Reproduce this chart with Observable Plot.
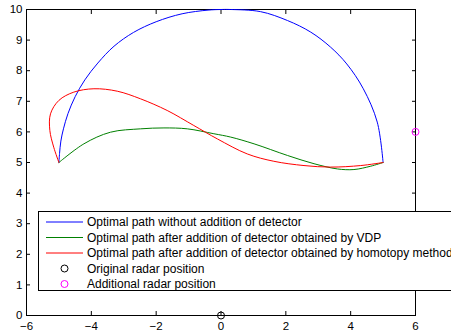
<!DOCTYPE html>
<html><head><meta charset="utf-8">
<script src="https://cdn.jsdelivr.net/npm/d3@7"></script>
<script src="https://cdn.jsdelivr.net/npm/@observablehq/plot@0.6"></script>
<style>
body{margin:0;background:#fff;font-family:"Liberation Sans",Arial,sans-serif;}
#wrap{position:relative;width:451px;height:334px;overflow:hidden;}
#legend{position:absolute;left:38px;top:211px;width:440px;height:80px;border:1px solid #000;background:#fff;box-sizing:border-box;}
</style>
</head><body>
<div id="wrap"></div>
<script>
const blueX = [-5, -4.98, -4.94, -4.86, -4.72, -4.5, -4.2, -3.8, -3.3, -2.7, -2.0, -1.2, -0.4, 0, 0.3, 1.22, 2.05, 2.77, 3.38, 3.88, 4.39, 4.82, 5];
const blueY = [5, 5.3, 5.7, 6.1, 6.6, 7.15, 7.7, 8.25, 8.8, 9.25, 9.6, 9.86, 9.98, 10, 10, 9.93, 9.64, 9.26, 8.77, 8.22, 7.41, 6.32, 5];
const greenX = [-5, -4.23, -3.41, -2.48, -1.76, -1.04, -0.22, 0.3, 1.02, 2.05, 2.87, 3.59, 4.1, 4.62, 5];
const greenY = [5, 5.61, 5.99, 6.10, 6.13, 6.10, 5.94, 5.83, 5.61, 5.23, 4.96, 4.79, 4.77, 4.88, 5];
const redX = [-5, -5.16, -5.28, -5.26, -5.0, -4.54, -3.92, -3.2, -2.48, -1.66, -0.84, -0.11, 0.81, 1.63, 2.56, 3.38, 4.31, 5];
const redY = [5, 5.5, 6.05, 6.59, 7.03, 7.3, 7.41, 7.33, 7.08, 6.70, 6.21, 5.77, 5.28, 5.04, 4.90, 4.85, 4.90, 5];
const radarOriginal = [{x: 0, y: 0}];
const radarAdditional = [{x: 6, y: 6}];
const xTicks = [-6, -4, -2, 0, 2, 4, 6];
const yTicks = [0, 1, 2, 3, 4, 5, 6, 7, 8, 9, 10];
const legendItems = [
  {label: "Optimal path without addition of detector", color: "#0000ff", type: "line"},
  {label: "Optimal path after addition of detector obtained by VDP", color: "#008000", type: "line"},
  {label: "Optimal path after addition of detector obtained by homotopy method", color: "#ff0000", type: "line"},
  {label: "Original radar position", color: "#000000", type: "dot"},
  {label: "Additional radar position", color: "#ff00ff", type: "dot"}
];

const toPts = (xs, ys) => xs.map((x, i) => ({x, y: ys[i]}));

const chart = Plot.plot({
  width: 451, height: 334,
  marginLeft: 26, marginRight: 36, marginTop: 9, marginBottom: 19,
  style: {fontFamily: "Liberation Sans, Arial, sans-serif", fontSize: "11.5px", color: "#000", background: "#fff"},
  x: {domain: [-6, 6]},
  y: {domain: [0, 10]},
  marks: [
    Plot.frame({stroke: "#000", strokeWidth: 1}),
    Plot.axisX({ticks: xTicks, tickSize: -4, tickPadding: 10, label: null, fontSize: 11.5}),
    Plot.axisX({ticks: xTicks, anchor: "top", tickSize: -4, tickFormat: () => "", label: null}),
    Plot.axisY({ticks: yTicks, tickSize: -4, tickPadding: 8, label: null, fontSize: 11.5}),
    Plot.axisY({ticks: yTicks, anchor: "right", tickSize: -4, tickFormat: () => "", label: null}),
    Plot.line(toPts(blueX, blueY), {x: "x", y: "y", stroke: "#0000ff", strokeWidth: 1, curve: "catmull-rom"}),
    Plot.line(toPts(greenX, greenY), {x: "x", y: "y", stroke: "#008000", strokeWidth: 1, curve: "catmull-rom"}),
    Plot.line(toPts(redX, redY), {x: "x", y: "y", stroke: "#ff0000", strokeWidth: 1, curve: "catmull-rom"}),
    Plot.dot(radarOriginal, {x: "x", y: "y", r: 3.5, stroke: "#000", strokeWidth: 1}),
    Plot.dot(radarAdditional, {x: "x", y: "y", r: 3.5, stroke: "#ff00ff", strokeWidth: 1})
  ]
});
const wrap = document.getElementById("wrap");
wrap.appendChild(chart);

const leg = document.createElement("div");
leg.id = "legend";
wrap.appendChild(leg);
const svg = d3.select(leg).append("svg").attr("width", 440).attr("height", 80);
legendItems.forEach((d, i) => {
  const y = 10 + i * 15.5;
  if (d.type === "line") {
    svg.append("line").attr("x1", 7).attr("x2", 44).attr("y1", y).attr("y2", y).attr("stroke", d.color).attr("stroke-width", 1);
  } else {
    svg.append("circle").attr("cx", 25.5).attr("cy", y).attr("r", 3.5).attr("fill", "none").attr("stroke", d.color);
  }
  svg.append("text").attr("x", 48).attr("y", y).attr("dy", "0.35em")
    .attr("font-size", 12).attr("font-family", "Liberation Sans, Arial, sans-serif").text(d.label);
});
</script>
</body></html>
